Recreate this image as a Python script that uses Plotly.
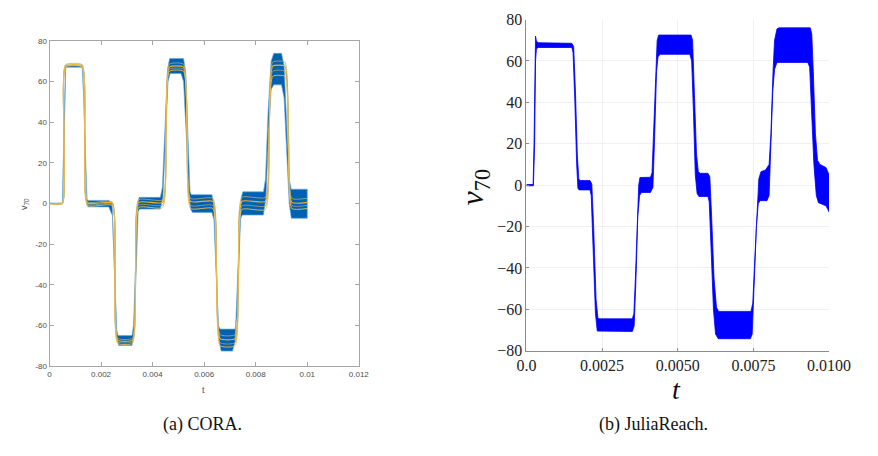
import plotly.graph_objects as go

# ---------------- CORA (left) : reachable band envelopes ----------------
cora_t_up = [0, 0.0005, 0.00056, 0.00062, 0.0007, 0.00127, 0.00132, 0.00139, 0.00145, 0.0015,
             0.0023, 0.00243, 0.00252, 0.0026, 0.00266, 0.0032, 0.00326, 0.00335, 0.00342, 0.00348,
             0.0043, 0.00438, 0.00448, 0.00458, 0.00466, 0.0052, 0.00528, 0.00537, 0.00545, 0.0055,
             0.0063, 0.00637, 0.00645, 0.00655, 0.00662, 0.0072, 0.00728, 0.00737, 0.00744, 0.0075,
             0.0083, 0.00838, 0.00848, 0.0086, 0.0087, 0.009, 0.0091, 0.0092, 0.0093, 0.00938, 0.01]
cora_v_up = [0.2, 0.2, 34, 68, 68, 68, 55, 22, 2, 1.5,
             1.5, 0, -30, -62, -65, -65, -60, -25, 0, 3,
             3, 8, 40, 66, 71.3, 71.3, 65, 30, 6, 4.3,
             4.3, 0, -30, -60, -61.8, -61.8, -55, -20, 3, 5.7,
             5.7, 12, 45, 70, 73.8, 73.8, 68, 40, 12, 7, 7]

cora_t_lo = [0, 0.0005, 0.00057, 0.00063, 0.0007, 0.00127, 0.00133, 0.0014, 0.00146, 0.0015,
             0.0023, 0.00244, 0.00254, 0.00262, 0.00268, 0.0032, 0.00328, 0.00337, 0.00344, 0.0035,
             0.0043, 0.0044, 0.0045, 0.0046, 0.00468, 0.0051, 0.0052, 0.00532, 0.0054, 0.00548, 0.00555,
             0.0063, 0.00638, 0.00648, 0.00658, 0.00666, 0.0071, 0.0072, 0.0073, 0.0074, 0.00748,
             0.0083, 0.0084, 0.0085, 0.0086, 0.0087, 0.009, 0.0091, 0.0092, 0.0093, 0.00938, 0.01]
cora_v_lo = [-0.2, -0.2, 33, 67, 67, 67, 52, 18, -1, -1.7,
             -1.7, -6, -38, -66, -69.8, -69.8, -64, -28, -4, -2.8,
             -2.8, 3, 35, 60, 63.9, 63.9, 60, 30, 5, -3, -4.4,
             -4.4, -8, -40, -68, -72.6, -72.6, -68, -35, -8, -5.7,
             -5.7, 3, 35, 56, 58.3, 58.3, 52, 25, 0, -7.3, -7.3]

# CORA sample trajectories (yellow), values at knot times
cora_traj_t = [0, 0.0005, 0.00056, 0.00062, 0.00127, 0.00137, 0.00147, 0.00243, 0.00254, 0.00264,
               0.00322, 0.00334, 0.00346, 0.00439, 0.00452, 0.00465, 0.0052, 0.00534, 0.00547,
               0.00634, 0.00648, 0.00662, 0.0072, 0.00733, 0.00746, 0.00838, 0.00852, 0.00866,
               0.00913, 0.00927, 0.0094, 0.01]
cora_traj_1 = [0, 0, 34, 68.2, 68.2, 34, 0.8, 0.8, -33, -66.3, -66.3, -32, 1.8, 1.8, 35, 68.5, 68.5, 35,
               2.5, 2.5, -31, -64.5, -64.5, -31, 3, 3, 36, 69.5, 69.5, 36, 2.5, 2.5]
cora_traj_2 = [0, 0, 34, 67.6, 67.6, 34, 0.2, 0.2, -33.5, -67.2, -67.2, -33, 0.5, 0.5, 34, 67, 67, 34,
               1, 1, -33, -66.5, -66.5, -33, 1, 1, 34, 67.5, 67.5, 34, 0.5, 0.5]
cora_traj_3 = [0, 0, 33.5, 67, 67, 33, -0.4, -0.4, -34, -68, -68, -34, -0.8, -0.8, 33, 66, 66, 32,
               -1, -1, -35, -68.5, -68.5, -35, -1.2, -1.2, 32, 65, 65, 32, -1, -1]
cora_traj_4 = [0, 0, 33.5, 67.3, 67.3, 33, -1, -1, -35, -68.8, -68.8, -35, -2, -2, 31, 65, 65, 31,
               -2.5, -2.5, -36, -70, -70, -36, -3, -3, 30, 62.5, 62.5, 30, -2.5, -2.5]

cora_xticks = [0, 0.002, 0.004, 0.006, 0.008, 0.01, 0.012]
cora_xtick_text = ["0", "0.002", "0.004", "0.006", "0.008", "0.01", "0.012"]
cora_yticks = [-80, -60, -40, -20, 0, 20, 40, 60, 80]
cora_ytick_text = ["-80", "-60", "-40", "-20", "0", "20", "40", "60", "80"]

# ---------------- JuliaReach (right) : band envelopes ----------------
jr_t_up = [0, 0.00022, 0.00025, 0.00028, 0.0003, 0.00033, 0.0004, 0.0015, 0.00156, 0.00162, 0.00168,
           0.00173, 0.00177, 0.0021, 0.00216, 0.00222, 0.0023, 0.00236, 0.0024, 0.0035, 0.00355,
           0.0036, 0.00366, 0.00371, 0.00375, 0.0041, 0.00415, 0.0042, 0.00427, 0.00432, 0.00437,
           0.00544, 0.00549, 0.00555, 0.00562, 0.00568, 0.00574, 0.006, 0.00606, 0.00612, 0.0062,
           0.00628, 0.00635, 0.00742, 0.00748, 0.00755, 0.00762, 0.00768, 0.00775, 0.0079, 0.00802,
           0.00808, 0.00815, 0.0082, 0.00828, 0.00835, 0.00938, 0.00943, 0.00948, 0.00955, 0.00962,
           0.0097, 0.0099, 0.01]
jr_v_up = [0.3, 0.3, 20, 60, 72, 69.5, 68.8, 68.5, 67, 45, 15,
           3, 2.2, 2.2, 0.5, -20, -55, -64, -64.6, -64.6, -62,
           -45, -15, 0, 3.7, 3.8, 6, 25, 55, 70, 72.5,
           72.5, 70, 45, 15, 6.5, 5.7, 5.7, 4, -15, -45,
           -59, -61, -61, -57, -35, -10, 3, 6.5, 7.3, 10,
           25, 55, 70, 75.5, 76, 76, 73, 55, 25, 12,
           10, 8.5, 5]

jr_t_lo = [0, 0.00023, 0.00027, 0.0003, 0.00033, 0.0004, 0.0015, 0.00154, 0.0016, 0.00166, 0.0017,
           0.00174, 0.0021, 0.00214, 0.0022, 0.00228, 0.00234, 0.0024, 0.0035, 0.00356, 0.00362,
           0.00368, 0.00374, 0.0038, 0.0041, 0.00418, 0.00423, 0.0043, 0.00435, 0.00442, 0.0054,
           0.00546, 0.00552, 0.00558, 0.00564, 0.0057, 0.006, 0.00604, 0.0061, 0.00618, 0.00625,
           0.00634, 0.0074, 0.00746, 0.00752, 0.0076, 0.00766, 0.00772, 0.00795, 0.00802, 0.00808,
           0.00814, 0.0082, 0.00828, 0.0093, 0.00936, 0.00942, 0.0095, 0.00958, 0.00965, 0.0099, 0.01]
jr_v_lo = [-0.3, -0.3, 20, 60, 66, 66.5, 66.5, 64, 40, 10, -1.5,
           -2.3, -2.3, -5, -30, -62, -70.5, -70.7, -70.7, -68, -45,
           -15, -5, -3.6, -3.5, -1, 20, 55, 62, 63.2, 63.2,
           60, 35, 5, -4, -5.5, -5.5, -8, -30, -60, -72,
           -74.2, -74.2, -72, -50, -20, -9, -7.5, -7.5, -5, 20,
           45, 56, 59.3, 59.3, 57, 40, 10, -5, -8.5, -10, -12.9]

jr_xticks = [0.0, 0.0025, 0.005, 0.0075, 0.01]
jr_xtick_text = ["0.0", "0.0025", "0.0050", "0.0075", "0.0100"]
jr_yticks = [-80, -60, -40, -20, 0, 20, 40, 60, 80]
jr_ytick_text = ["\u221280", "\u221260", "\u221240", "\u221220", "0", "20", "40", "60", "80"]

captions = ["(a) CORA.", "(b) JuliaReach."]

# ---------------- figure ----------------
W, H = 878, 456
fig = go.Figure()

CORA_BLUE = "#0061B0"
YELLOW = "#EDB120"

fig.add_trace(go.Scatter(
    x=cora_t_up + cora_t_lo[::-1], y=cora_v_up + cora_v_lo[::-1],
    fill="toself", fillcolor=CORA_BLUE, mode="lines",
    line=dict(color="#6aa6da", width=0.7), xaxis="x", yaxis="y",
    hoverinfo="skip", showlegend=False))

traj_styles = [("#b8ab78", 0.8), (YELLOW, 1.2), ("#a9a27a", 0.8), ("#f2c14e", 0.9)]
for tr, (c, w) in zip([cora_traj_1, cora_traj_2, cora_traj_3, cora_traj_4], traj_styles):
    fig.add_trace(go.Scatter(
        x=cora_traj_t, y=tr, mode="lines",
        line=dict(color=c, width=w, shape="spline", smoothing=0.5),
        xaxis="x", yaxis="y", hoverinfo="skip", showlegend=False))

fig.add_trace(go.Scatter(
    x=jr_t_up + jr_t_lo[::-1], y=jr_v_up + jr_v_lo[::-1],
    fill="toself", fillcolor="#0000FF", mode="lines",
    line=dict(color="#0000FF", width=0.8), xaxis="x2", yaxis="y2",
    hoverinfo="skip", showlegend=False))


def px_x(p):
    return p / W


def px_y(p):
    return 1 - p / H


left_font = dict(family="Liberation Sans, Arial, sans-serif", size=8, color="#4d4d4d")
right_font = dict(family="Liberation Serif, 'Times New Roman', serif", size=16, color="#222222")

fig.update_layout(
    width=W, height=H, margin=dict(l=0, r=0, t=0, b=0),
    paper_bgcolor="white", plot_bgcolor="white", showlegend=False,
    xaxis=dict(domain=[px_x(41), px_x(362)], range=[0, 0.012], tickvals=cora_xticks,
               ticktext=cora_xtick_text, showgrid=False, zeroline=False, showline=True,
               linecolor="#a6a6a6", linewidth=1, mirror="ticks", ticks="inside", ticklen=4,
               tickcolor="#a6a6a6", tickfont=left_font, anchor="y"),
    yaxis=dict(domain=[px_y(372), px_y(34)], range=[-80, 80], tickvals=cora_yticks,
               ticktext=cora_ytick_text, showgrid=False, zeroline=False, showline=True,
               linecolor="#a6a6a6", linewidth=1, mirror="ticks", ticks="inside", ticklen=4,
               tickcolor="#a6a6a6", tickfont=left_font, anchor="x"),
    xaxis2=dict(domain=[px_x(536), px_x(850)], range=[0, 0.01], tickvals=jr_xticks,
                ticktext=jr_xtick_text, showgrid=True, gridcolor="#f0f0f0", zeroline=False,
                showline=True, linecolor="#8c8c8c", linewidth=1, ticks="inside", ticklen=3,
                tickcolor="#8c8c8c", tickfont=right_font, anchor="y2"),
    yaxis2=dict(domain=[px_y(356), px_y(12)], range=[-80, 80], tickvals=jr_yticks,
                ticktext=jr_ytick_text, showgrid=True, gridcolor="#f0f0f0", zeroline=False,
                showline=True, linecolor="#8c8c8c", linewidth=1, ticks="inside", ticklen=3,
                tickcolor="#8c8c8c", tickfont=right_font, anchor="x2"),
)

ann = [
    dict(text="v<sub>70</sub>", x=px_x(15), y=px_y(203), textangle=-90,
         font=dict(family="Liberation Sans, Arial, sans-serif", size=9, color="#4d4d4d")),
    dict(text="t", x=px_x(201), y=px_y(397),
         font=dict(family="Liberation Sans, Arial, sans-serif", size=9, color="#4d4d4d")),
    dict(text="<i>v</i><sub>70</sub>", x=px_x(482), y=px_y(186), textangle=-90,
         font=dict(family="Liberation Serif, serif", size=32, color="#111111")),
    dict(text="<i>t</i>", x=px_x(692), y=px_y(396),
         font=dict(family="Liberation Serif, serif", size=28, color="#111111")),
    dict(text=captions[0], x=px_x(200), y=px_y(433),
         font=dict(family="Liberation Serif, serif", size=18, color="#111111")),
    dict(text=captions[1], x=px_x(668), y=px_y(433),
         font=dict(family="Liberation Serif, serif", size=18, color="#111111")),
]
for a in ann:
    a.update(xref="paper", yref="paper", showarrow=False, xanchor="center", yanchor="middle")
    fig.add_annotation(**a)

fig.write_html("out.html")
